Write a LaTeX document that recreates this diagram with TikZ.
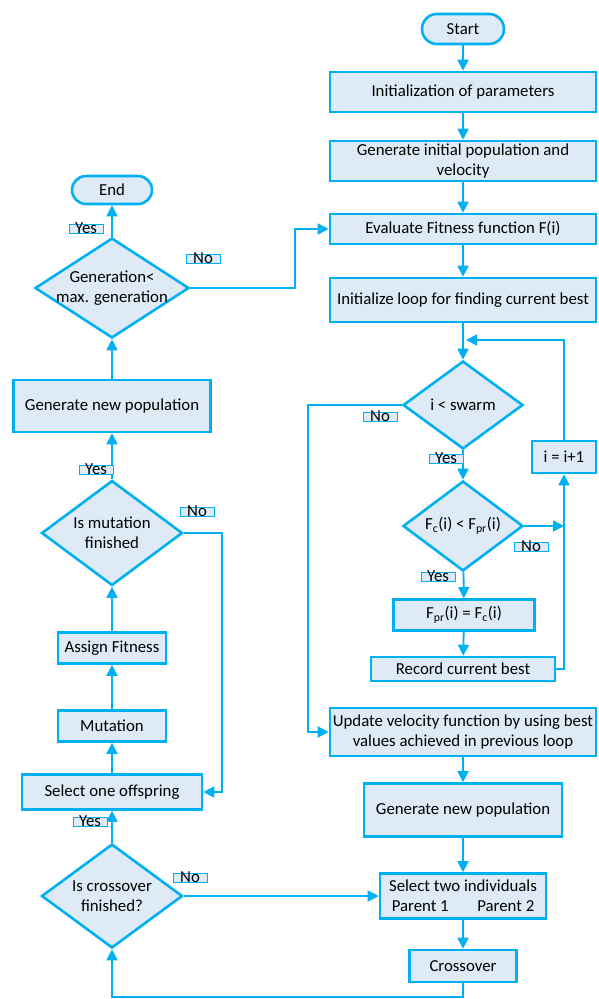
\documentclass[tikz,border=0pt]{standalone}
\usepackage{fontspec}
\setmainfont{Carlito}
\usetikzlibrary{shapes.geometric,arrows.meta}
\definecolor{bd}{HTML}{00B0F0}
\definecolor{bf}{HTML}{DEEBF7}
\begin{document}
\begin{tikzpicture}[x=1pt,y=-1pt,
  font=\fontsize{16.8}{20}\selectfont,
  box/.style={draw=bd, line width=2.6pt, fill=bf, rectangle, inner sep=1.5pt, align=center, text=black},
  term/.style={box, rounded corners=15pt},
  dia/.style={draw=bd, line width=2.6pt, fill=bf, diamond, inner sep=0pt},
  dtxt/.style={align=center, inner sep=0pt, text=black},
  arr/.style={draw=bd, line width=1.8pt, -{Triangle[width=11pt,length=11pt]}},
  lbl/.style={draw=bd, line width=0.9pt, fill=bf, minimum width=34pt, text height=9pt, text depth=0pt, inner ysep=0pt, inner xsep=0pt, text=black}]
\useasboundingbox (0,0) rectangle (598,999);
% right column
\node[term, minimum width=82, minimum height=30] (start) at (463,29) {Start};
\node[box, minimum width=266, minimum height=40] (init) at (463,92) {Initialization of parameters};
\node[box, minimum width=266, minimum height=40] (geninit) at (463,161) {Generate initial population and\\velocity};
\node[box, minimum width=266, minimum height=30] (eval) at (463,229) {Evaluate Fitness function F(i)};
\node[box, minimum width=266, minimum height=44] (initloop) at (463,300) {Initialize loop for finding current best};
\node[dia, minimum width=120, minimum height=88] (swarm) at (463,405) {};
\node[dtxt] (swarmt) at (swarm) {i < swarm};
\node[dia, minimum width=120, minimum height=90] (fc) at (463,526) {};
\node[dtxt] (fct) at (fc) {F\textsubscript{c}(i) < F\textsubscript{pr}(i)};
\node[box, minimum width=64, minimum height=32] (incr) at (564,457) {i = i+1};
\node[box, minimum width=141, minimum height=31] (fpr) at (464,615) {F\textsubscript{pr}(i) = F\textsubscript{c}(i)};
\node[box, minimum width=184, minimum height=24] (record) at (463,669) {Record current best};
\node[box, minimum width=266, minimum height=48] (update) at (463,732) {Update velocity function by using best\\values achieved in previous loop};
\node[box, minimum width=198, minimum height=53] (gennewR) at (463,810) {Generate new population};
\node[box, minimum width=166, minimum height=45] (seltwo) at (463,896) {Select two individuals\\Parent 1\hspace{1.7em}Parent 2};
\node[box, minimum width=107, minimum height=32] (cross) at (463,966) {Crossover};
% left column
\node[term, minimum width=80, minimum height=28, rounded corners=14pt] (end) at (112,190) {End};
\node[dia, minimum width=154, minimum height=100] (gen) at (112,288) {};
\node[dtxt] (gent) at (gen) {Generation<\\max. generation};
\node[box, minimum width=197, minimum height=52] (gennewL) at (112,406) {Generate new population};
\node[dia, minimum width=141, minimum height=105] (mut) at (112,533) {};
\node[dtxt] (mutt) at (mut) {Is mutation\\finished};
\node[box, minimum width=108, minimum height=31] (assign) at (112,648) {Assign Fitness};
\node[box, minimum width=108, minimum height=31] (mutation) at (112,726) {Mutation};
\node[box, minimum width=180, minimum height=35] (selone) at (112,792) {Select one offspring};
\node[dia, minimum width=141, minimum height=104] (crossd) at (112,896) {};
\node[dtxt] (crossdt) at (crossd) {Is crossover\\finished?};
% coordinates
\coordinate (loopin) at (466,340);
\coordinate (noL) at (308,405);
\coordinate (bot) at (463,997);
\coordinate (mutR) at (222,533);
\coordinate (genR) at (295,288);
% connectors
\draw[arr] (start) -- (init);
\draw[arr] (init) -- (geninit);
\draw[arr] (geninit) -- (eval);
\draw[arr] (eval) -- (initloop);
\draw[arr] (initloop) -- (swarm);
\draw[arr] (incr.north) |- (loopin);
\draw[arr] (swarm) -- (fc);
\draw[arr] (swarm.west) -- (noL) |- (update.west);
\draw[arr] (fc.east) -- (fc.east -| incr.south);
\draw[arr] (record.east) -| (incr.south);
\draw[arr] (fc) -- (fpr);
\draw[arr] (fpr) -- (record);
\draw[arr] (update) -- (gennewR);
\draw[arr] (gennewR) -- (seltwo);
\draw[arr] (seltwo) -- (cross);
\draw[arr] (cross.south) -- (bot) -| (crossd.south);
\draw[arr] (crossd.east) -- (seltwo.west);
\draw[arr] (crossd) -- (selone);
\draw[arr] (selone) -- (mutation);
\draw[arr] (mutation) -- (assign);
\draw[arr] (assign) -- (mut);
\draw[arr] (mut.east) -- (mutR) |- (selone.east);
\draw[arr] (mut) -- (gennewL);
\draw[arr] (gennewL) -- (gen);
\draw[arr] (gen) -- (end);
\draw[arr] (gen.east) -- (genR) |- (eval.west);
% labels
\node[lbl] (l1) at (86,228.5) {Yes};
\node[lbl] (l2) at (203,259) {No};
\node[lbl] (l3) at (380,417) {No};
\node[lbl] (l4) at (446,459) {Yes};
\node[lbl] (l5) at (531,547) {No};
\node[lbl] (l6) at (438,577) {Yes};
\node[lbl] (l7) at (96,470) {Yes};
\node[lbl] (l8) at (197,512) {No};
\node[lbl] (l9) at (90,822) {Yes};
\node[lbl] (l10) at (190,878) {No};
\end{tikzpicture}
\end{document}
